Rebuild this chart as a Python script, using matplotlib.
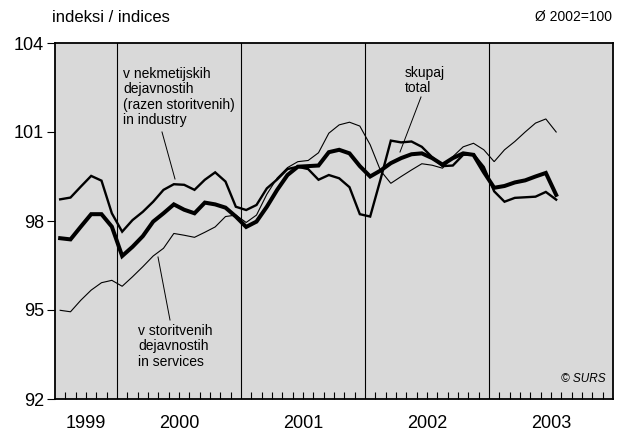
import matplotlib
matplotlib.use("Agg")
import matplotlib.pyplot as plt
import numpy as np

# Monthly data, July 1999 .. July 2003 (index 2002 = 100)
industry = [98.73, 98.79, 99.16, 99.52, 99.36, 98.26, 97.64, 98.03, 98.31, 98.65, 99.05, 99.24,
            99.22, 99.05, 99.39, 99.64, 99.33, 98.48, 98.37, 98.54, 99.10, 99.40, 99.75, 99.83,
            99.75, 99.39, 99.55, 99.44, 99.14, 98.23, 98.15, 99.40, 100.71, 100.65, 100.68, 100.50,
            100.15, 99.85, 99.87, 100.23, 100.25, 99.82, 99.00, 98.65, 98.78, 98.80, 98.82, 98.98, 98.72]
total = [97.42, 97.38, 97.81, 98.23, 98.23, 97.81, 96.82, 97.13, 97.49, 97.98, 98.26, 98.56,
         98.38, 98.26, 98.62, 98.56, 98.45, 98.15, 97.80, 97.98, 98.48, 99.05, 99.55, 99.83,
         99.85, 99.87, 100.32, 100.40, 100.28, 99.85, 99.50, 99.70, 99.95, 100.12, 100.25, 100.28,
         100.12, 99.90, 100.12, 100.28, 100.23, 99.65, 99.12, 99.18, 99.30, 99.37, 99.50, 99.62, 98.88]
services = [94.99, 94.94, 95.33, 95.67, 95.92, 96.00, 95.80, 96.12, 96.46, 96.82, 97.08, 97.58,
            97.52, 97.45, 97.62, 97.80, 98.15, 98.20, 97.95, 98.20, 98.90, 99.45, 99.80, 100.00,
            100.04, 100.30, 100.96, 101.24, 101.33, 101.20, 100.57, 99.70, 99.27, 99.50, 99.72, 99.93,
            99.88, 99.78, 100.17, 100.50, 100.62, 100.40, 100.00, 100.40, 100.68, 101.00, 101.30, 101.44, 101.00]
years = ["1999", "2000", "2001", "2002", "2003"]
year_starts = [0, 6, 18, 30, 42, 54]   # month offsets from July 1999
y_ticks = [92, 95, 98, 101, 104]

plt.rcParams['font.family'] = ['Liberation Sans', 'DejaVu Sans']

fig = plt.figure(figsize=(6.23, 4.32), dpi=100)
ax = fig.add_axes([55/623, 33/432, 558/623, 356/432])
ax.set_facecolor('#d9d9d9')

x = np.arange(len(total)) + 0.5
ax.plot(x, services, color='black', lw=0.8, solid_joinstyle='miter')
ax.plot(x, industry, color='black', lw=1.7, solid_joinstyle='miter')
ax.plot(x, total, color='black', lw=2.9, solid_joinstyle='miter')

for b in year_starts[1:-1]:
    ax.axvline(b, color='black', lw=0.8)

ax.set_xlim(year_starts[0], year_starts[-1])
ax.set_ylim(y_ticks[0], y_ticks[-1])
ax.set_yticks(y_ticks)
ax.set_yticklabels([str(v) for v in y_ticks], fontsize=13)
ax.tick_params(axis='y', direction='out', length=6, width=0.8, pad=2)

months = [m for m in range(1, year_starts[-1]) if m not in year_starts]
ax.set_xticks(months)
ax.set_xticklabels([])
ax.tick_params(axis='x', direction='in', length=5, width=0.8)
for s in ax.spines.values():
    s.set_linewidth(1.3)

for i, yl in enumerate(years):
    c = (year_starts[i] + year_starts[i + 1]) / 2
    ax.text(c, -0.045, yl, transform=ax.get_xaxis_transform(), ha='center', va='top', fontsize=13)

fig.text(52/623, 1 - 17/432, "indeksi / indices", ha='left', va='center', fontsize=12)
fig.text(612/623, 1 - 17/432, "Ø 2002=100", ha='right', va='center', fontsize=10)

# annotations (in data coords)
def px2data(px, py):
    xd = (px - 55) / 558 * 54
    yd = 104 - (py - 43) / 356 * 12
    return xd, yd

tx, ty = px2data(123, 67)
ax.text(tx, ty, "v nekmetijskih\ndejavnostih\n(razen storitvenih)\nin industry",
        ha='left', va='top', fontsize=10, linespacing=1.12)
ax.plot(*zip(px2data(162, 132), px2data(175, 179)), color='black', lw=0.7)

tx, ty = px2data(405, 66)
ax.text(tx, ty, "skupaj\ntotal", ha='left', va='top', fontsize=10, linespacing=1.12)
ax.plot(*zip(px2data(421, 97), px2data(400, 152)), color='black', lw=0.7)

tx, ty = px2data(138, 324)
ax.text(tx, ty, "v storitvenih\ndejavnostih\nin services", ha='left', va='top', fontsize=10, linespacing=1.12)
ax.plot(*zip(px2data(158, 257), px2data(170, 320)), color='black', lw=0.7)

tx, ty = px2data(606, 379)
ax.text(tx, ty, "© SURS", ha='right', va='center', fontsize=8.5, style='italic')

fig.savefig("out.png", dpi=100)
